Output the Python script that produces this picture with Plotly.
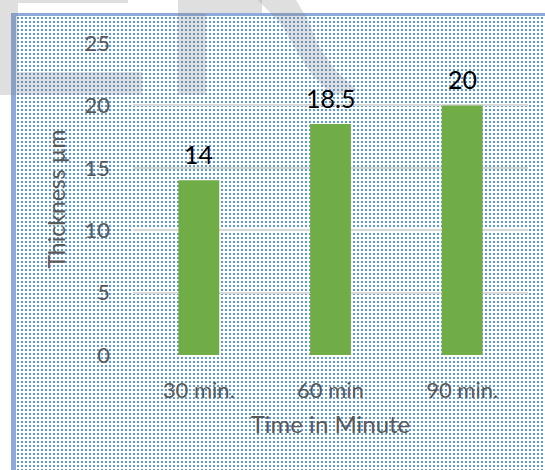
import base64
import plotly.graph_objects as go

# Chart data
categories = ["30 min.", "60 min", "90 min."]
thickness = [14, 18.5, 20]
y_ticks = [0, 5, 10, 15, 20, 25]

W, H = 545, 470
ML, MR, MT, MB = 133, 17, 43, 115
PW, PH = W - ML - MR, H - MT - MB


def px(x):
    return (x - ML) / PW


def py(y):
    return 1 - (y - MT) / PH


def path_from(points):
    return "M " + " L ".join(f"{px(a):.5f},{py(b):.5f}" for a, b in points) + " Z"


# Dotted chart-area fill as an inline SVG pattern
fx0, fy0 = 16, 16
svg = (
    f"<svg xmlns='http://www.w3.org/2000/svg' width='{W - fx0}' height='{H - fy0}' "
    "shape-rendering='crispEdges'>"
    "<defs><pattern id='d' width='4' height='4' patternUnits='userSpaceOnUse'>"
    "<rect x='1' y='1' width='2' height='2' fill='#5b9bd5'/>"
    "</pattern></defs>"
    "<rect width='100%' height='100%' fill='white'/>"
    "<rect width='100%' height='100%' fill='url(#d)'/></svg>"
)
src = "data:image/svg+xml;base64," + base64.b64encode(svg.encode()).decode()

fig = go.Figure()
fig.add_trace(go.Bar(
    x=categories, y=thickness, width=0.31,
    marker=dict(color="#70ad47", line=dict(width=0)),
    hoverinfo="skip",
))

# value labels above each bar
for c, v in zip(categories, thickness):
    fig.add_annotation(
        x=c, y=v, text=f"{v:g}", showarrow=False, yanchor="bottom", yshift=9,
        font=dict(family="Lato", size=25, color="#000000"),
    )

shape_gray = "rgba(128,128,128,0.25)"
shapes = [
    # frame border
    dict(type="rect", xref="paper", yref="paper", layer="below",
         x0=px(11), x1=px(16), y0=py(H), y1=py(13),
         fillcolor="#8eaadb", line=dict(width=0)),
    dict(type="rect", xref="paper", yref="paper", layer="below",
         x0=px(11), x1=px(W), y0=py(16), y1=py(13),
         fillcolor="#8eaadb", line=dict(width=0)),
    # faint background lettering
    dict(type="rect", xref="paper", yref="paper", layer="below",
         x0=px(0), x1=px(18), y0=py(95), y1=py(0),
         fillcolor=shape_gray, line=dict(width=0)),
    dict(type="rect", xref="paper", yref="paper", layer="below",
         x0=px(18), x1=px(128), y0=py(3), y1=py(0),
         fillcolor=shape_gray, line=dict(width=0)),
    dict(type="rect", xref="paper", yref="paper", layer="below",
         x0=px(18), x1=px(142), y0=py(95), y1=py(72),
         fillcolor=shape_gray, line=dict(width=0)),
    dict(type="rect", xref="paper", yref="paper", layer="below",
         x0=px(178), x1=px(206), y0=py(95), y1=py(0),
         fillcolor=shape_gray, line=dict(width=0)),
    dict(type="rect", xref="paper", yref="paper", layer="below",
         x0=px(206), x1=px(262), y0=py(13), y1=py(0),
         fillcolor=shape_gray, line=dict(width=0)),
    dict(type="path", xref="paper", yref="paper", layer="below",
         path=path_from([(258, 0), (296, 0), (308, 20), (318, 45), (335, 70),
                         (357, 90), (332, 95), (312, 75), (296, 50), (282, 25)]),
         fillcolor=shape_gray, line=dict(width=0)),
]

fig.update_layout(
    width=W, height=H,
    margin=dict(l=ML, r=MR, t=MT, b=MB),
    paper_bgcolor="white",
    plot_bgcolor="rgba(0,0,0,0)",
    showlegend=False,
    images=[dict(source=src, xref="paper", yref="paper", layer="below",
                 x=px(fx0), y=py(fy0), sizex=px(W) - px(fx0),
                 sizey=py(fy0) - py(H), xanchor="left", yanchor="top",
                 sizing="stretch")],
    shapes=shapes,
    xaxis=dict(
        showgrid=False, zeroline=False, showline=False, ticks="",
        ticklabelstandoff=20,
        tickfont=dict(family="Lato", size=22, color="#595959"),
        title=dict(text="Time in Minute", standoff=14,
                   font=dict(family="Lato", size=24, color="#595959")),
    ),
    yaxis=dict(
        range=[0, 25], tickvals=y_ticks, showgrid=True,
        gridcolor="#d9d9d9", gridwidth=1.5, zeroline=False, showline=False,
        ticks="", ticklabelstandoff=22,
        tickfont=dict(family="Lato", size=22, color="#595959"),
        title=dict(text="Thickness µm", standoff=12,
                   font=dict(family="Lato", size=23, color="#595959")),
    ),
)

fig.write_html("out.html")
